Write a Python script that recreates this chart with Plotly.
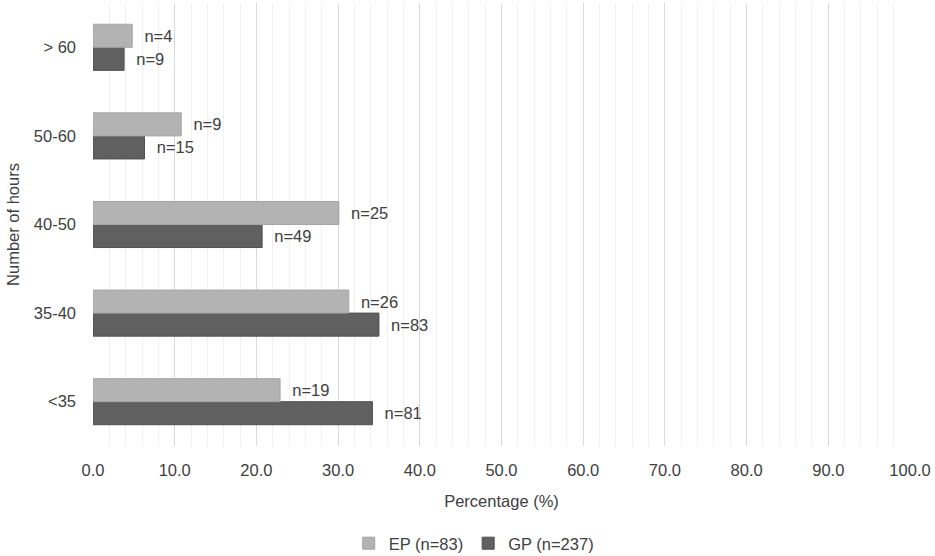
import plotly.graph_objects as go

categories = ["<35", "35-40", "40-50", "50-60", "> 60"]
ep_pct = [22.9, 31.3, 30.1, 10.8, 4.8]
gp_pct = [34.2, 35.0, 20.7, 6.3, 3.8]
ep_n = [19, 26, 25, 9, 4]
gp_n = [81, 83, 49, 15, 9]
x_ticks = [0, 10, 20, 30, 40, 50, 60, 70, 80, 90, 100]

FONT = "Liberation Sans, Arial, sans-serif"
TXT = "#404040"
FS = 16.5

fig = go.Figure()
fig.add_trace(go.Bar(
    y=categories, x=gp_pct, orientation="h", name="GP (n=237)",
    marker=dict(color="#606060", line=dict(color="#4f4f4f", width=1)),
    text=["\u00a0\u00a0n=%d" % v for v in gp_n], textposition="outside",
    textfont=dict(family=FONT, size=FS, color=TXT), cliponaxis=False,
    legendrank=2,
))
fig.add_trace(go.Bar(
    y=categories, x=ep_pct, orientation="h", name="EP (n=83)",
    marker=dict(color="#b3b3b3", line=dict(color="#a5a5a5", width=1)),
    text=["\u00a0\u00a0n=%d" % v for v in ep_n], textposition="outside",
    textfont=dict(family=FONT, size=FS, color=TXT), cliponaxis=False,
    legendrank=1,
))

fig.update_layout(
    width=935, height=556,
    margin=dict(l=93, r=25, t=3, b=110, autoexpand=False),
    paper_bgcolor="white", plot_bgcolor="white",
    barmode="group", bargap=0.48, bargroupgap=0,
    font=dict(family=FONT, size=FS, color=TXT),
    showlegend=True,
    legend=dict(orientation="h", x=0.313, xanchor="left", y=-0.22, yanchor="middle",
                font=dict(family=FONT, size=FS, color=TXT), itemwidth=30),
    xaxis=dict(
        range=[0, 100], tickvals=x_ticks, tickformat=".1f",
        showgrid=True, gridcolor="#d9d9d9", gridwidth=1,
        minor=dict(dtick=2, showgrid=True, gridcolor="#f0f0f0", gridwidth=1),
        zeroline=False, showline=False, ticks="", automargin=False,
        ticklabelstandoff=12,
        title=dict(text="Percentage (%)", standoff=17, font=dict(size=FS)),
        tickfont=dict(size=FS),
    ),
    yaxis=dict(
        categoryorder="array", categoryarray=categories,
        showgrid=False, zeroline=False, showline=False, ticks="", automargin=False,
        ticklabelstandoff=16,
        title=dict(text="Number of hours", standoff=10, font=dict(size=FS)),
        tickfont=dict(size=FS),
    ),
)

fig.write_html("out.html",
               config={"displayModeBar": False},
               post_script="document.body.style.margin='0';document.body.style.padding='0';")
